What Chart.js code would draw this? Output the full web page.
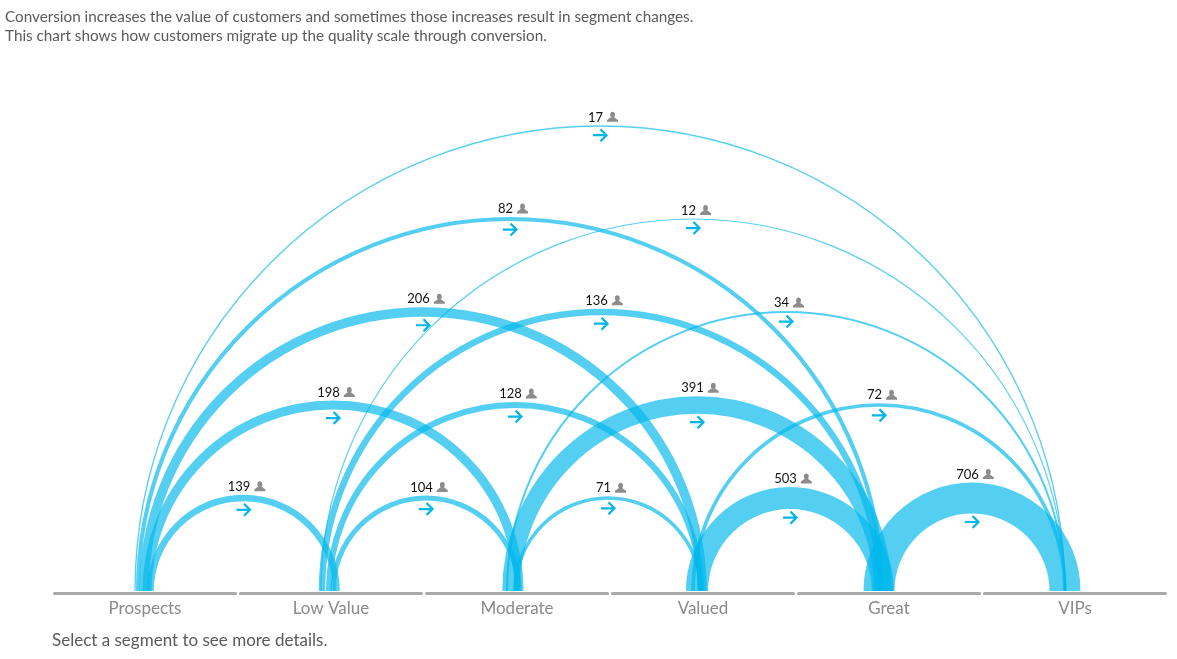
<!DOCTYPE html>
<html>
<head>
<meta charset="utf-8">
<script src="https://cdn.jsdelivr.net/npm/chart.js@4"></script>
<style>
html,body{margin:0;padding:0;background:#fff;width:1177px;height:659px;overflow:hidden;}
#wrap{position:relative;width:1177px;height:659px;}
canvas{position:absolute;left:0;top:0;}
.t{position:absolute;font-family:Lato,sans-serif;color:#5a5a5a;white-space:nowrap;}
</style>
</head>
<body>
<div id="wrap">
<canvas id="c" width="1177" height="659"></canvas>
<div class="t" style="left:5px;top:7px;font-size:15.25px;line-height:19px;">Conversion increases the value of customers and sometimes those increases result in segment changes.<br>This chart shows how customers migrate up the quality scale through conversion.</div>
<div class="t" style="left:52px;top:630px;font-size:17px;line-height:20px;">Select a segment to see more details.</div>
</div>
<script>
const segments = ["Prospects","Low Value","Moderate","Valued","Great","VIPs"];
const linkFrom  = [0,0,0,0,0,1,1,1,1,2,2,2,3,3,4];
const linkTo    = [1,2,3,4,5,2,3,4,5,3,4,5,4,5,5];
const linkCount = [139,198,206,82,17,104,128,136,12,71,391,34,503,72,706];

/* layout only */
const apexNudge = [5.5,2,-1,-7,-10,2,-2,-9,-10,-2,-6,-10,-6,-10,-10];
const pxPerUnit = 93;
const bandColor = 'rgba(0,183,235,0.67)', arrowColor = '#00b5e8', iconColor = '#8c8c8c';
const widthOf = n => 0.6 + 0.043*n;

const arcPlugin = {
  id:'arcs',
  afterDatasetsDraw(chart){
    const ctx = chart.ctx, meta = chart.getDatasetMeta(1), yBase = chart.scales.y.getPixelForValue(0);
    ctx.save();
    ctx.beginPath(); ctx.rect(0,0,1177,yBase); ctx.clip();
    meta.data.forEach((el,i)=>{
      const cx = el.x + apexNudge[i], r = yBase - el.y;
      ctx.beginPath();
      ctx.arc(cx,yBase,r,Math.PI,2*Math.PI);
      ctx.lineWidth = widthOf(linkCount[i]);
      ctx.strokeStyle = bandColor;
      ctx.stroke();
    });
    ctx.restore();
    ctx.save();
    meta.data.forEach((el,i)=>{
      const cx = el.x + apexNudge[i], w = widthOf(linkCount[i]);
      const top = el.y - w/2, inner = el.y + w/2;
      const txt = String(linkCount[i]);
      ctx.font = '13px Lato, sans-serif';
      ctx.textBaseline = 'middle'; ctx.textAlign = 'left';
      const tw = ctx.measureText(txt).width;
      const sx = cx - tw/2 - 4.5, ly = top - 8;
      ctx.fillStyle = '#111';
      ctx.fillText(txt, sx, ly);
      // person icon
      const ix = sx + tw + 9.5, iy = ly - 0.5;
      ctx.fillStyle = iconColor;
      ctx.beginPath(); ctx.ellipse(ix,iy-2,2.4,3,0,0,2*Math.PI); ctx.fill();
      ctx.beginPath();
      ctx.moveTo(ix-5.5,iy+5);
      ctx.lineTo(ix-5.5,iy+3.2);
      ctx.quadraticCurveTo(ix-3,iy+1.6,ix-1.6,iy+0.4);
      ctx.lineTo(ix+1.6,iy+0.4);
      ctx.quadraticCurveTo(ix+3,iy+1.6,ix+5.5,iy+3.2);
      ctx.lineTo(ix+5.5,iy+5);
      ctx.closePath(); ctx.fill();
      // arrow
      const ay = inner + 8.5;
      ctx.strokeStyle = arrowColor; ctx.lineWidth = 2.2; ctx.lineCap='butt'; ctx.lineJoin='miter';
      ctx.beginPath();
      ctx.moveTo(cx-7,ay); ctx.lineTo(cx+6,ay);
      ctx.moveTo(cx+0.5,ay-6); ctx.lineTo(cx+6.5,ay); ctx.lineTo(cx+0.5,ay+6);
      ctx.stroke();
    });
    ctx.restore();
  }
};

new Chart(document.getElementById('c'),{
  data:{
    labels:segments,
    datasets:[
      {type:'bar',label:'Segments',xAxisID:'x',yAxisID:'y',grouped:false,
       data:segments.map(()=>[-1/pxPerUnit,-4/pxPerUnit]),
       backgroundColor:'#a9a9a9',borderWidth:0,borderRadius:1.5,borderSkipped:false,
       barPercentage:184/186,categoryPercentage:1},
      {type:'scatter',label:'Migrations',xAxisID:'x2',yAxisID:'y',
       data:linkFrom.map((f,i)=>({x:(f+linkTo[i])/2,y:linkTo[i]-f})),
       pointRadius:0,pointHoverRadius:0,showLine:false}
    ]
  },
  options:{
    responsive:false,animation:false,
    layout:{padding:{left:52,right:9,top:126,bottom:0}},
    plugins:{legend:{display:false},tooltip:{enabled:false},title:{display:false}},
    scales:{
      x:{type:'category',offset:true,grid:{display:false,drawTicks:false},border:{display:false},
         afterFit(s){s.height=64;},
         ticks:{autoSkip:false,maxRotation:0,padding:3,color:'#8a8a8a',font:{family:'Lato, sans-serif',size:17}}},
      x2:{type:'linear',display:false,min:-0.5,max:5.5},
      y:{type:'linear',display:false,min:-4/pxPerUnit,max:5}
    }
  },
  plugins:[arcPlugin]
});
</script>
</body>
</html>
